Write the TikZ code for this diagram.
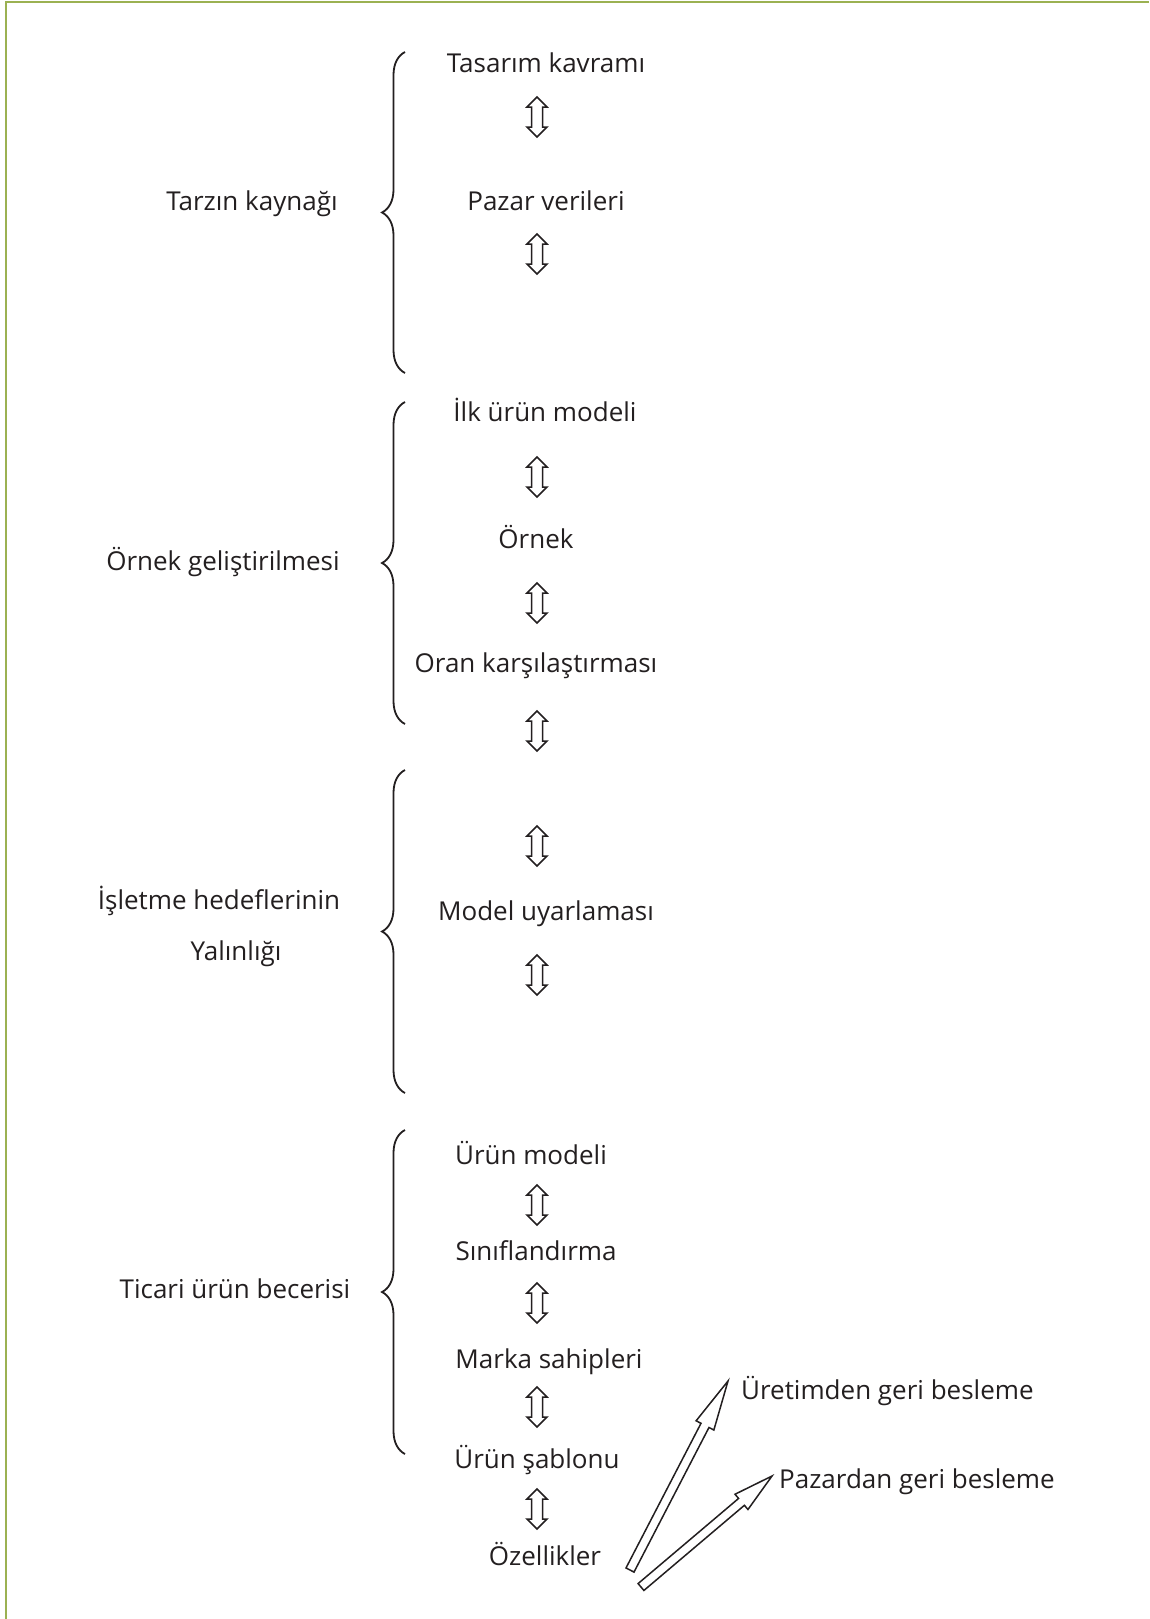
\documentclass[tikz,border=0pt]{standalone}
\usepackage{fontspec}
\setmainfont{Open Sans}
\usetikzlibrary{calc,decorations.pathreplacing}

\definecolor{frame}{RGB}{155,177,82}
\definecolor{ink}{RGB}{35,31,32}

\tikzset{
  lbl/.style={font=\fontsize{26}{30}\selectfont, text=ink, inner sep=0pt, anchor=base},
  curly/.style={draw=ink, line width=1.8pt, decorate,
                decoration={brace, amplitude=23pt, aspect=0.5}},
  updown/.style={draw=ink, line width=1.5pt, line join=miter, fill=white},
  fback/.style={draw=ink, line width=1.5pt, line join=miter, fill=white},
}

% vertical hollow double arrow centred on a named coordinate
\newcommand\udarrow[2]{%
  \coordinate (#1) at (537,-#2);
  \draw[updown, shift={(#1)}]
    (0,20) -- (10,10) -- (5.5,10) -- (5.5,-10) -- (10,-10) -- (0,-20)
    -- (-10,-10) -- (-5.5,-10) -- (-5.5,10) -- (-10,10) -- cycle;
}

% hollow single arrow: tail, tip, head length, head half width, shaft half width
\newcommand\fbarrow[5]{%
  \coordinate (#1-h) at ($(#2)!#3!(#1)$);
  \draw[fback]
    ($(#1)!#5!90:(#2)$) -- ($(#1-h)!#5!90:(#2)$) -- ($(#1-h)!#4!90:(#2)$)
    -- (#2)
    -- ($(#1-h)!#4!-90:(#2)$) -- ($(#1-h)!#5!-90:(#2)$) -- ($(#1)!#5!-90:(#2)$)
    -- cycle;
}

\begin{document}
\begin{tikzpicture}[x=1pt, y=1pt]
  \useasboundingbox (0,0) rectangle (1149,-1619);
  \fill[white] (0,0) rectangle (1149,-1619);

  % frame: top and left edges only
  \draw[frame, line width=2.5pt] (6,-1619) -- (6,-2) -- (1149,-2);

  % braces
  \draw[curly] (405,-373) -- (405,-52);
  \draw[curly] (405,-724) -- (405,-402);
  \draw[curly] (405,-1093) -- (405,-770);
  \draw[curly] (405,-1454) -- (405,-1130);

  % group titles
  \node[lbl] (g1)  at (252,-210)  {Tarzın kaynağı};
  \node[lbl] (g2)  at (223,-570)  {Örnek geliştirilmesi};
  \node[lbl] (g3a) at (219,-909)  {İşletme hedeflerinin};
  \node[lbl] (g3b) at (236,-960)  {Yalınlığı};
  \node[lbl] (g4)  at (235,-1298) {Ticari ürün becerisi};

  % steps
  \node[lbl] (s1)  at (546,-72)   {Tasarım kavramı};
  \node[lbl] (s2)  at (546,-210)  {Pazar verileri};
  \node[lbl] (s3)  at (545,-421)  {İlk ürün modeli};
  \node[lbl] (s4)  at (536,-548)  {Örnek};
  \node[lbl] (s5)  at (536,-672)  {Oran karşılaştırması};
  \node[lbl] (s6)  at (546,-920)  {Model uyarlaması};
  \node[lbl] (s7)  at (531,-1164) {Ürün modeli};
  \node[lbl] (s8)  at (536,-1260) {Sınıflandırma};
  \node[lbl] (s9)  at (549,-1368) {Marka sahipleri};
  \node[lbl] (s10) at (537,-1468) {Ürün şablonu};
  \node[lbl] (s11) at (545,-1565) {Özellikler};

  \node[lbl, anchor=base west] (fb1) at (741,-1399) {Üretimden geri besleme};
  \node[lbl, anchor=base west] (fb2) at (779,-1488) {Pazardan geri besleme};

  % two-way arrows between steps
  \udarrow{a1}{117}
  \udarrow{a2}{254}
  \udarrow{a3}{477}
  \udarrow{a4}{603}
  \udarrow{a5}{731}
  \udarrow{a6}{846}
  \udarrow{a7}{975}
  \udarrow{a8}{1205}
  \udarrow{a9}{1303}
  \udarrow{a10}{1407}
  \udarrow{a11}{1509}

  % feedback arrows from the features
  \coordinate (t1) at (630,-1570);
  \coordinate (p1) at (728,-1381);
  \coordinate (t2) at (641,-1587);
  \coordinate (p2) at (772,-1476);
  \fbarrow{t1}{p1}{50pt}{10pt}{4.5pt}
  \fbarrow{t2}{p2}{40pt}{10pt}{4.5pt}
\end{tikzpicture}
\end{document}
